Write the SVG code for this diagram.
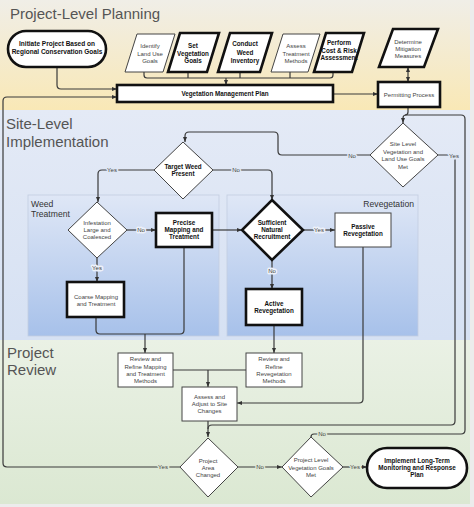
<svg xmlns="http://www.w3.org/2000/svg" width="474" height="507" viewBox="0 0 474 507">
<defs>
<linearGradient id="gPlan" x1="0" y1="0" x2="0" y2="1"><stop offset="0" stop-color="#f0eee7"/><stop offset="1" stop-color="#f9e8b6"/></linearGradient>
<linearGradient id="gSite" x1="0" y1="0" x2="0" y2="1"><stop offset="0" stop-color="#e4eaf6"/><stop offset="1" stop-color="#d6e1f3"/></linearGradient>
<linearGradient id="gPanel" x1="0" y1="0" x2="0" y2="1"><stop offset="0" stop-color="#dfe7f6"/><stop offset="1" stop-color="#a7c1ea"/></linearGradient>
<linearGradient id="gRev" x1="0" y1="0" x2="0" y2="1"><stop offset="0" stop-color="#eaf1e5"/><stop offset="1" stop-color="#dbe8d2"/></linearGradient>
<marker id="arr" viewBox="0 0 10 10" refX="10" refY="5" markerWidth="5" markerHeight="5" markerUnits="userSpaceOnUse" orient="auto-start-reverse"><path d="M0,1 L10,5 L0,9 z" fill="#333"/></marker>
</defs>
<style>
.con{fill:none;stroke:#3a3a3a;stroke-width:1.2}
.thick{fill:#fff;stroke:#111;stroke-width:2.6}
.thin{fill:#fff;stroke:#444;stroke-width:1}
.b{font-family:"Liberation Sans",Arial,sans-serif;font-size:6.3px;font-weight:bold;fill:#111;text-anchor:middle}
.n{font-family:"Liberation Sans",Arial,sans-serif;font-size:6px;fill:#444;text-anchor:middle}
.lbl{font-family:"Liberation Sans",Arial,sans-serif;font-size:6px;fill:#444;text-anchor:middle;stroke-width:3;paint-order:stroke;stroke-linejoin:round}
.band{font-family:"Liberation Sans",Arial,sans-serif;font-size:15px;fill:#555}
.pan{font-family:"Liberation Sans",Arial,sans-serif;font-size:8.6px;fill:#333}
</style>
<g id="background">
<rect x="0" y="0" width="474" height="507" fill="#ececec"/>
<rect x="0" y="0" width="470" height="110" fill="url(#gPlan)"/>
<rect x="0" y="110" width="470" height="230" fill="url(#gSite)"/>
<rect x="0" y="340" width="470" height="164" fill="url(#gRev)"/>
<text class="band" x="10" y="19">Project-Level Planning</text>
<text class="band" x="6" y="129">Site-Level</text>
<text class="band" x="6" y="147">Implementation</text>
<text class="band" x="7" y="358">Project</text>
<text class="band" x="7" y="375">Review</text>
</g>
<g id="panel-weed">
<rect x="28" y="195" width="191" height="141" fill="url(#gPanel)" stroke="#c2cde0" stroke-width="0.8"/>
<text class="pan" x="31" y="207">Weed</text>
<text class="pan" x="31" y="217">Treatment</text>
</g>
<g id="panel-reveg">
<rect x="227" y="195" width="191" height="141" fill="url(#gPanel)" stroke="#c2cde0" stroke-width="0.8"/>
<text class="pan" x="414" y="207" text-anchor="end">Revegetation</text>
</g>
<g id="connectors">
<path class="con" d="M57,67 V85 Q57,89 61,89 H117" marker-end="url(#arr)"/>
<path class="con" d="M144,72 V75 Q144,78 147,78 H330 Q333,78 333,75 V72"/>
<path class="con" d="M188,72 V78 M240,72 V78 M290,72 V78"/>
<path class="con" d="M226,78 V85" marker-end="url(#arr)"/>
<path class="con" d="M180,467 H7 Q3,467 3,463 V101 Q3,97 7,97 H117" marker-end="url(#arr)"/>
<path class="con" d="M333,94 H378" marker-end="url(#arr)"/>
<path class="con" d="M408,67 V82" marker-start="url(#arr)" marker-end="url(#arr)"/>
<path class="con" d="M408,107 V112 Q408,115 405,115"/>
<path class="con" d="M311,437 Q311,434 314,434 H461 Q465,434 465,430 V119 Q465,115 461,115 H406 Q403,115 403,118 V123" marker-end="url(#arr)"/>
<path class="con" d="M370,155 H282 Q278,155 278,151 V136 Q278,132 274,132 H189 Q185,132 185,136 V142" marker-end="url(#arr)"/>
<path class="con" d="M438,155 H451 Q455,155 455,159 V421 Q455,425 451,425 H212 Q208,425 208,429 V437" marker-end="url(#arr)"/>
<path class="con" d="M208,421 V429"/>
<path class="con" d="M154,170 H102 Q98,170 98,174 V202" marker-end="url(#arr)"/>
<path class="con" d="M213,170 H268 Q272,170 272,174 V200" marker-end="url(#arr)"/>
<path class="con" d="M127,230 H156" marker-end="url(#arr)"/>
<path class="con" d="M97,258 V282" marker-end="url(#arr)"/>
<path class="con" d="M212,230 H242" marker-end="url(#arr)"/>
<path class="con" d="M96,317 V330 Q96,334 100,334 H180 Q184,334 184,330 V247"/>
<path class="con" d="M145,334 V353" marker-end="url(#arr)"/>
<path class="con" d="M303,230 H335" marker-end="url(#arr)"/>
<path class="con" d="M272,260 V289" marker-end="url(#arr)"/>
<path class="con" d="M274,325 V353" marker-end="url(#arr)"/>
<path class="con" d="M363,247 V399 Q363,403 359,403 H237" marker-end="url(#arr)"/>
<path class="con" d="M173,370 H246"/>
<path class="con" d="M208,370 V387" marker-end="url(#arr)"/>
<path class="con" d="M238,467 H282" marker-end="url(#arr)"/>
<path class="con" d="M343,467 H367" marker-end="url(#arr)"/>
<text class="lbl" x="163" y="469" stroke="#dfe9d7">Yes</text>
<text class="lbl" x="322" y="436" stroke="#dfe9d7">No</text>
<text class="lbl" x="352" y="158" stroke="#e0e8f5">No</text>
<text class="lbl" x="454" y="158" stroke="#e0e8f5">Yes</text>
<text class="lbl" x="112" y="172" stroke="#e0e8f5">Yes</text>
<text class="lbl" x="236" y="172" stroke="#e0e8f5">No</text>
<text class="lbl" x="141" y="232" stroke="#edf1f9">No</text>
<text class="lbl" x="97" y="270" stroke="#edf1f9">Yes</text>
<text class="lbl" x="319" y="232" stroke="#edf1f9">Yes</text>
<text class="lbl" x="272" y="273" stroke="#edf1f9">No</text>
<text class="lbl" x="260" y="469" stroke="#dfe9d7">No</text>
<text class="lbl" x="355" y="469" stroke="#dfe9d7">Yes</text>
</g>
<g id="initiate">
<rect class="thick" x="8" y="31" width="98" height="36" rx="18"/>
<text class="b" x="57" y="46" style="font-size:6.5px">Initiate Project Based on</text>
<text class="b" x="57" y="54" style="font-size:6.5px">Regional Conservation Goals</text>
</g>
<g id="identify">
<polygon class="thin" points="137,34 175,34 163,72 125,72"/>
<text class="n" x="150" y="48">Identify</text><text class="n" x="150" y="55.5">Land Use</text><text class="n" x="150" y="63">Goals</text>
</g>
<g id="set-goals">
<polygon class="thick" points="180,33 219,33 207,72 168,72"/>
<text class="b" x="193" y="48">Set</text><text class="b" x="193" y="55.5">Vegetation</text><text class="b" x="193" y="63">Goals</text>
</g>
<g id="conduct">
<polygon class="thick" points="230,33 272,33 260,72 218,72"/>
<text class="b" x="245" y="46">Conduct</text><text class="b" x="245" y="54.5">Weed</text><text class="b" x="245" y="63">Inventory</text>
</g>
<g id="assess-treatment">
<polygon class="thin" points="283,34 320,34 308,72 271,72"/>
<text class="n" x="296" y="48">Assess</text><text class="n" x="296" y="55.5">Treatment</text><text class="n" x="296" y="63">Methods</text>
</g>
<g id="perform">
<polygon class="thick" points="326,33 364,33 352,72 314,72"/>
<text class="b" x="339" y="45">Perform</text><text class="b" x="339" y="52.5">Cost &amp; Risk</text><text class="b" x="339" y="60">Assessment</text>
</g>
<g id="determine">
<polygon class="thick" points="393,29 438,29 424,67 379,67"/>
<text class="n" x="408" y="44">Determine</text><text class="n" x="408" y="51">Mitigation</text><text class="n" x="408" y="58">Measures</text>
</g>
<g id="vmp">
<rect class="thick" x="117" y="85" width="216" height="17"/>
<text class="b" x="225" y="96">Vegetation Management Plan</text>
</g>
<g id="permitting">
<rect class="thick" x="378" y="82" width="62" height="25"/>
<text class="n" x="409" y="97">Permitting Process</text>
</g>
<g id="site-goals">
<polygon class="thin" points="403,123 438,155 403,187 370,155"/>
<text class="n" x="403" y="146">Site Level</text><text class="n" x="403" y="153.5">Vegetation and</text><text class="n" x="403" y="161">Land Use Goals</text><text class="n" x="403" y="168.5">Met</text>
</g>
<g id="target-weed">
<polygon class="thin" points="183,142 213,170 183,199 154,170"/>
<text class="b" x="183" y="169">Target Weed</text><text class="b" x="183" y="176">Present</text>
</g>
<g id="infestation">
<polygon class="thin" points="97,202 127,230 97,258 68,230"/>
<text class="n" x="97" y="225">Infestation</text><text class="n" x="97" y="232">Large and</text><text class="n" x="97" y="239">Coalesced</text>
</g>
<g id="precise">
<rect class="thick" x="156" y="213" width="56" height="34"/>
<text class="b" x="184" y="225">Precise</text><text class="b" x="184" y="232">Mapping and</text><text class="b" x="184" y="239">Treatment</text>
</g>
<g id="coarse">
<rect class="thick" x="67" y="282" width="57" height="35"/>
<text class="n" x="96" y="299">Coarse Mapping</text><text class="n" x="96" y="306">and Treatment</text>
</g>
<g id="sufficient">
<polygon class="thick" points="272,200 303,230 272,260 242,230"/>
<text class="b" x="272" y="225">Sufficient</text><text class="b" x="272" y="232">Natural</text><text class="b" x="272" y="239">Recruitment</text>
</g>
<g id="passive">
<rect class="thin" x="335" y="213" width="56" height="34"/>
<text class="b" x="363" y="229">Passive</text><text class="b" x="363" y="236">Revegetation</text>
</g>
<g id="active">
<rect class="thick" x="246" y="289" width="56" height="36"/>
<text class="b" x="274" y="306">Active</text><text class="b" x="274" y="313">Revegetation</text>
</g>
<g id="review-mapping">
<rect class="thin" x="118" y="353" width="55" height="34"/>
<text class="n" x="145.5" y="361">Review and</text><text class="n" x="145.5" y="368.5">Refine Mapping</text><text class="n" x="145.5" y="376">and Treatment</text><text class="n" x="145.5" y="383">Methods</text>
</g>
<g id="review-reveg">
<rect class="thin" x="246" y="353" width="56" height="34"/>
<text class="n" x="274" y="361">Review and</text><text class="n" x="274" y="368.5">Refine</text><text class="n" x="274" y="376">Revegetation</text><text class="n" x="274" y="383">Methods</text>
</g>
<g id="assess-adjust">
<rect class="thin" x="182" y="387" width="55" height="34"/>
<text class="n" x="209.5" y="399">Assess and</text><text class="n" x="209.5" y="406">Adjust to Site</text><text class="n" x="209.5" y="413">Changes</text>
</g>
<g id="project-area">
<polygon class="thin" points="208,438 238,467 208,497 180,467"/>
<text class="n" x="208" y="463">Project</text><text class="n" x="208" y="470">Area</text><text class="n" x="208" y="477">Changed</text>
</g>
<g id="project-level">
<polygon class="thin" points="311,437 343,467 311,497 282,467"/>
<text class="n" x="311" y="462">Project Level</text><text class="n" x="311" y="470">Vegetation Goals</text><text class="n" x="311" y="477">Met</text>
</g>
<g id="implement">
<rect class="thick" x="367" y="448" width="100" height="40" rx="20"/>
<text class="b" x="417" y="463">Implement Long-Term</text><text class="b" x="417" y="470">Monitoring and Response</text><text class="b" x="417" y="477">Plan</text>
</g>
</svg>
